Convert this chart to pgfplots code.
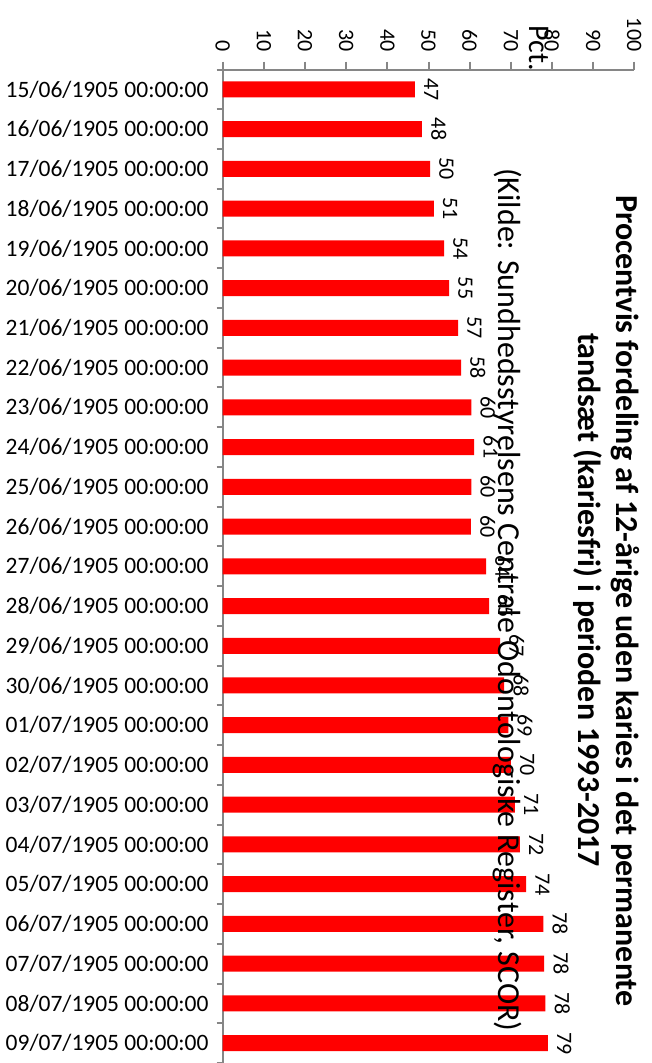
\documentclass[border=0pt]{standalone}
\usepackage{fontspec}
\setmainfont{Carlito}
\usepackage{pgfplots}
\pgfplotsset{compat=1.18}
\definecolor{axgray}{HTML}{868686}
\definecolor{barred}{HTML}{FF0000}

\begin{document}
\begin{tikzpicture}
\path[use as bounding box] (0,0) rectangle (652pt,-1063pt);
\begin{axis}[
  at={(222.7pt,-69.5pt)}, anchor=north west,
  scale only axis, width=411.6pt, height=993.5pt,
  xbar, bar width=16pt, bar shift=0pt,
  xmin=0, xmax=100,
  ymin=-0.5, ymax=24.5, y dir=reverse,
  axis x line*=top, axis y line*=left,
  axis line style={draw=axgray, line width=2pt, -},
  clip=false,
  /pgf/number format/assume math mode=true,
  xtick={0,10,...,100},
  xticklabels={0,10,20,30,40,50,60,70,80,90,100},
  ytick={0,...,24},
  yticklabels={15/06/1905 00:00:00,16/06/1905 00:00:00,17/06/1905 00:00:00,
    18/06/1905 00:00:00,19/06/1905 00:00:00,20/06/1905 00:00:00,
    21/06/1905 00:00:00,22/06/1905 00:00:00,23/06/1905 00:00:00,
    24/06/1905 00:00:00,25/06/1905 00:00:00,26/06/1905 00:00:00,
    27/06/1905 00:00:00,28/06/1905 00:00:00,29/06/1905 00:00:00,
    30/06/1905 00:00:00,01/07/1905 00:00:00,02/07/1905 00:00:00,
    03/07/1905 00:00:00,04/07/1905 00:00:00,05/07/1905 00:00:00,
    06/07/1905 00:00:00,07/07/1905 00:00:00,08/07/1905 00:00:00,
    09/07/1905 00:00:00},
  minor ytick={-0.5,0.5,...,24.5},
  tick align=outside,
  major tick length=8pt, minor tick length=6pt,
  tick style={draw=axgray, line width=2pt},
  major y tick style={draw=none},
  xticklabel shift=10pt,
  yticklabel shift=6pt,
  xticklabel style={rotate=-90, anchor=east, inner sep=0pt,
    font=\fontsize{22}{26}\selectfont},
  yticklabel style={anchor=east, inner sep=0pt,
    font=\fontsize{23.5}{28}\selectfont},
  nodes near coords={\pgfmathprintnumber[fixed,precision=0]{\pgfplotspointmeta}},
  nodes near coords style={rotate=-90, anchor=south, inner xsep=0pt,
    inner ysep=9pt, font=\fontsize{22}{26}\selectfont, text=black},
]
\addplot[fill=barred, draw=none] coordinates {
  (46.7,0) (48.4,1) (50.4,2) (51.3,3) (53.8,4) (55.0,5) (57.2,6) (57.9,7)
  (60.4,8) (61.1,9) (60.4,10) (60.3,11) (64.0,12) (64.7,13) (67.4,14)
  (68.4,15) (69.4,16) (70.0,17) (71.0,18) (72.2,19) (73.7,20) (77.9,21)
  (78.1,22) (78.4,23) (79.0,24)
};
\end{axis}
\node[rotate=-90, anchor=base, font=\fontsize{32}{39}\selectfont\bfseries]
  at (616pt,-601pt) {Procentvis fordeling af 12-årige uden karies i det permanente};
\node[rotate=-90, anchor=base, font=\fontsize{32}{39}\selectfont\bfseries]
  at (578pt,-600pt) {tandsæt (kariesfri) i perioden 1993-2017};
\node[rotate=-90, anchor=base, font=\fontsize{32}{39}\selectfont]
  at (498pt,-600pt) {(Kilde: Sundhedsstyrelsens Centrale Odontologiske Register, SCOR)};
\node[rotate=-90, inner sep=0pt, font=\fontsize{30}{36}\selectfont]
  at (539pt,-48pt) {Pct.};
\end{tikzpicture}
\end{document}
